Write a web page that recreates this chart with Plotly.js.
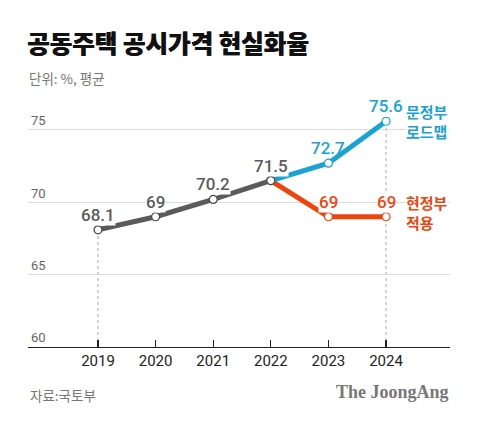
<!DOCTYPE html>
<html>
<head>
<meta charset="utf-8">
<script src="https://cdn.plot.ly/plotly-3.0.1.min.js"></script>
<style>
  html, body { margin: 0; padding: 0; background: #fff; }
  #chart { width: 480px; height: 421px; }
</style>
</head>
<body>
<div id="chart"></div>
<script>
// ---- data ----
const years = [2019, 2020, 2021, 2022, 2023, 2024];
const pastYears = [2019, 2020, 2021, 2022];
const pastRate = [68.1, 69, 70.2, 71.5];
const planYears = [2022, 2023, 2024];
const roadmapRate = [71.5, 72.7, 75.6];   // 문정부 로드맵
const currentRate = [71.5, 69, 69];       // 현정부 적용
const yTicks = [60, 65, 70, 75];
const roadmapName = '문정부<br>로드맵';
const currentName = '현정부<br>적용';
const titleText = '공동주택 공시가격 현실화율';
const unitText = '단위: %, 평균';
const sourceText = '자료:국토부';
const brandText = 'The JoongAng';

// ---- styles ----
const GRAY = '#5b5b5b';
const BLUE = '#19a3d4';
const RED = '#f0440f';
const NUMFONT = 'Roboto, "Liberation Sans", Arial, sans-serif';
const KRFONT = '"Noto Sans CJK KR", "Noto Sans", sans-serif';

function lineTrace(x, y, color) {
  return {
    x: x, y: y, type: 'scatter', mode: 'lines+markers',
    line: { color: color, width: 5 },
    marker: { size: 8, color: '#fff', line: { color: color === GRAY ? '#444' : color, width: 1.2 } },
    hoverinfo: 'skip', cliponaxis: false
  };
}

const data = [
  lineTrace(planYears, currentRate, RED),
  lineTrace(planYears, roadmapRate, BLUE),
  lineTrace(pastYears, pastRate, GRAY)
];

// value labels
const annotations = [];
function valueLabel(x, y, color, bg) {
  annotations.push({
    x: x, y: y, xref: 'x', yref: 'y', text: String(y), showarrow: false,
    yanchor: 'middle', xanchor: 'center', yshift: 15,
    font: { family: NUMFONT, size: 17, color: color, weight: 500 },
    bgcolor: bg ? '#fff' : 'rgba(0,0,0,0)', borderpad: 0
  });
}
pastYears.forEach((x, i) => valueLabel(x, pastRate[i], GRAY, true));
planYears.forEach((x, i) => { if (i > 0) valueLabel(x, roadmapRate[i], BLUE, i === 2); });
planYears.forEach((x, i) => { if (i > 0) valueLabel(x, currentRate[i], RED, true); });

const lastIdx = planYears.length - 1;
annotations.push({
  x: planYears[lastIdx], y: roadmapRate[lastIdx], xref: 'x', yref: 'y',
  text: roadmapName, showarrow: false, align: 'right',
  xanchor: 'left', yanchor: 'top', xshift: 19, yshift: 21,
  font: { family: KRFONT, size: 15, color: BLUE, weight: 700 },
  bgcolor: '#fff', borderpad: 0
});
annotations.push({
  x: planYears[lastIdx], y: currentRate[lastIdx], xref: 'x', yref: 'y',
  text: currentName, showarrow: false, align: 'left',
  xanchor: 'left', yanchor: 'top', xshift: 19, yshift: 26,
  font: { family: KRFONT, size: 15, color: RED, weight: 700 },
  bgcolor: '#fff', borderpad: 0
});

// texts
annotations.push({
  xref: 'paper', yref: 'paper', x: 0, y: 1, yshift: 12, xanchor: 'left', yanchor: 'bottom',
  text: unitText, showarrow: false, borderpad: 0,
  font: { family: KRFONT, size: 13.5, color: '#777' }
});
annotations.push({
  xref: 'paper', yref: 'paper', x: 0, y: 0, yshift: -36, xanchor: 'left', yanchor: 'top',
  text: sourceText, showarrow: false,
  font: { family: KRFONT, size: 13.5, color: '#777' }
});
annotations.push({
  xref: 'paper', yref: 'paper', x: 1, y: 0, yshift: -34, xanchor: 'right', yanchor: 'top',
  text: brandText, showarrow: false, borderpad: 0,
  font: { family: '"Liberation Serif", "DejaVu Serif", serif', size: 18, color: '#777', weight: 700 }
});

// drop lines
const shapes = [
  { type: 'line', xref: 'x', yref: 'y', x0: pastYears[0], x1: pastYears[0], y0: yTicks[0], y1: pastRate[0],
    line: { color: '#aaa', width: 1, dash: 'dot' }, layer: 'below' },
  { type: 'line', xref: 'x', yref: 'y', x0: planYears[lastIdx], x1: planYears[lastIdx], y0: yTicks[0], y1: roadmapRate[lastIdx],
    line: { color: '#aaa', width: 1, dash: 'dot' }, layer: 'below' }
];

const layout = {
  width: 480, height: 421,
  margin: { l: 28, r: 30, t: 101, b: 74 },
  paper_bgcolor: '#fff', plot_bgcolor: '#fff',
  showlegend: false,
  title: {
    text: titleText, xref: 'container', yref: 'container',
    x: 27 / 480, xanchor: 'left', y: 1 - 44 / 421, yanchor: 'middle',
    font: { family: KRFONT, size: 24.5, color: '#111', weight: 900, shadow: '0.5px 0 0 #111' }
  },
  xaxis: {
    range: [2017.785, 2025.11], tickvals: years, ticktext: years.map(String),
    showgrid: false, zeroline: false,
    showline: true, linecolor: '#222', linewidth: 1.2,
    ticks: 'inside', ticklen: 7, tickcolor: '#222', tickwidth: 1.2,
    tickfont: { family: NUMFONT, size: 15, color: '#222' },
    fixedrange: true
  },
  yaxis: {
    range: [60, 77], tickvals: yTicks, ticktext: yTicks.map(String),
    showgrid: true, gridcolor: '#dcdcdc', gridwidth: 1,
    zeroline: false, showline: false, ticks: '',
    ticklabelposition: 'inside top',
    tickfont: { family: NUMFONT, size: 13, color: '#666' },
    fixedrange: true
  },
  annotations: annotations,
  shapes: shapes
};

Plotly.newPlot('chart', data, layout, { staticPlot: true, displayModeBar: false });
</script>
</body>
</html>
